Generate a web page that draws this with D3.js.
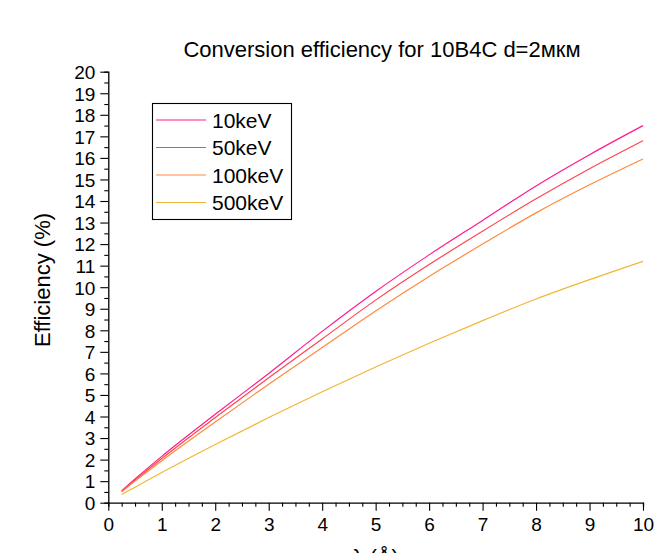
<!DOCTYPE html>
<html>
<head>
<meta charset="utf-8">
<script src="https://cdn.jsdelivr.net/npm/d3@7"></script>
<style>
  body { margin: 0; background: #fff; }
  text { font-family: "Liberation Sans", Arial, sans-serif; fill: #000; }
</style>
</head>
<body>
<script>
// wavelength points (Å)
const lambda = [0.25, 0.5, 1, 2, 3, 4, 5, 6, 7, 8, 9, 10];

// efficiency (%)
const eff10 = [0.55, 1.1, 2.15, 4.1, 6.0, 7.95, 9.8, 11.5, 13.1, 14.7, 16.15, 17.5];
const eff50 = [0.52, 1.05, 2.05, 3.95, 5.8, 7.6, 9.4, 11.05, 12.6, 14.1, 15.5, 16.8];
const eff100 = [0.5, 1.0, 1.95, 3.75, 5.5, 7.2, 8.9, 10.5, 12.0, 13.45, 14.75, 15.95];
const eff500 = [0.38, 0.72, 1.4, 2.7, 3.95, 5.15, 6.3, 7.4, 8.45, 9.45, 10.35, 11.2];

const seriesNames = ["10keV", "50keV", "100keV", "500keV"];
const seriesColors = ["#ff1a8c", "#ff4550", "#ff8a3d", "#f2b637"];

const xTicks = d3.range(0, 11, 1);
const yTicks = d3.range(0, 21, 1);

const width = 654, height = 553;
const margin = {left: 108.3, right: 11, top: 71.7, bottom: 50.3};

const svg = d3.select("body").append("svg")
    .attr("width", width)
    .attr("height", height);

const x = d3.scaleLinear().domain([0, 10]).range([margin.left, width - margin.right]);
const y = d3.scaleLinear().domain([0, 20]).range([height - margin.bottom, margin.top]);

// x axis: major + minor ticks
const xAxis = svg.append("g").attr("transform", `translate(0,${y(0)})`);
xAxis.call(d3.axisBottom(x).tickValues(d3.range(0, 10.01, 0.25)).tickSize(4).tickFormat(""));
xAxis.call(g => g.selectAll(".tick").filter(d => Math.abs(d - Math.round(d)) < 1e-6)
    .select("line").attr("y2", 8));
xAxis.selectAll(".tick").filter(d => xTicks.includes(d)).append("text")
    .attr("y", 28)
    .attr("text-anchor", "middle")
    .style("font-size", "19px")
    .text(d => d);

// y axis: major + minor ticks
const yAxis = svg.append("g").attr("transform", `translate(${x(0)},0)`);
yAxis.call(d3.axisLeft(y).tickValues(d3.range(0, 20.01, 0.5)).tickSize(4).tickFormat(""));
yAxis.call(g => g.selectAll(".tick").filter(d => Math.abs(d - Math.round(d)) < 1e-6)
    .select("line").attr("x2", -8));
yAxis.selectAll(".tick").filter(d => yTicks.includes(d)).append("text")
    .attr("x", -13).attr("dy", "0.36em")
    .attr("text-anchor", "end")
    .style("font-size", "19px")
    .text(d => d);

svg.selectAll(".domain").attr("stroke", "#000").attr("stroke-width", 1.3);
svg.selectAll(".tick line").attr("stroke", "#000").attr("stroke-width", 1.1);

// curves
const allSeries = [eff10, eff50, eff100, eff500];
const line = d3.line()
    .x((d, i) => x(lambda[i]))
    .y(d => y(d))
    .curve(d3.curveMonotoneX);

svg.selectAll(".curve")
    .data(allSeries)
    .enter().append("path")
    .attr("class", "curve")
    .attr("d", line)
    .attr("fill", "none")
    .attr("stroke", (d, i) => seriesColors[i])
    .attr("stroke-width", 1.2);

// title
svg.append("text")
    .attr("x", 382).attr("y", 57)
    .attr("text-anchor", "middle")
    .style("font-size", "22px")
    .text("Conversion efficiency for 10B4C d=2мкм");

// axis labels
svg.append("text")
    .attr("transform", "translate(50,280) rotate(-90)")
    .attr("text-anchor", "middle")
    .style("font-size", "22px")
    .text("Efficiency (%)");

svg.append("text")
    .attr("x", (x(0) + x(10)) / 2).attr("y", 565)
    .attr("text-anchor", "middle")
    .style("font-size", "22px")
    .text("λ (Å)");

// legend
const legend = svg.append("g");
legend.append("rect")
    .attr("x", 152.5).attr("y", 103.5)
    .attr("width", 139).attr("height", 116)
    .attr("fill", "#fff")
    .attr("stroke", "#000")
    .attr("stroke-width", 1.1);

const items = legend.selectAll(".item")
    .data(seriesNames)
    .enter().append("g")
    .attr("transform", (d, i) => `translate(0,${120 + i * 27.5})`);
items.append("line")
    .attr("x1", 156).attr("x2", 206)
    .attr("stroke", (d, i) => seriesColors[i])
    .attr("stroke-width", 1.2);
items.append("text")
    .attr("x", 212).attr("dy", "0.36em")
    .style("font-size", "21px")
    .text(d => d);
</script>
</body>
</html>
